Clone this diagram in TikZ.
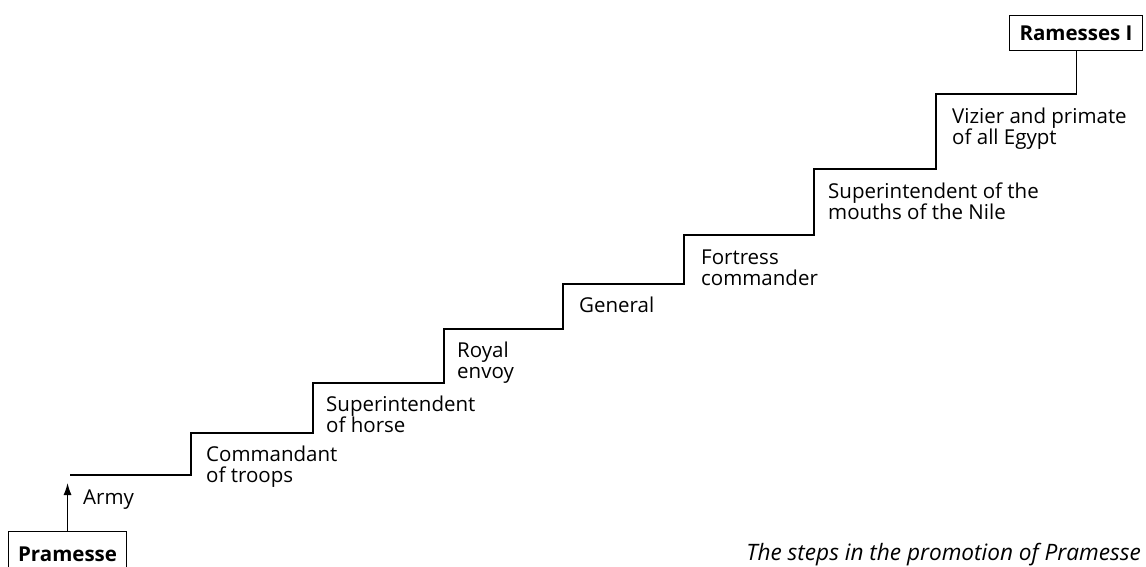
\documentclass[tikz,border=0pt]{standalone}
\usepackage{fontspec}
\setmainfont{Open Sans}
\usetikzlibrary{arrows.meta}
\begin{document}
\begin{tikzpicture}[x=1pt,y=-1pt,
  lbl/.style={anchor=base west,inner sep=0pt,align=left,font=\fontsize{20.5}{21}\selectfont},
  namebox/.style={draw,line width=1.1pt,inner sep=0pt,font=\fontsize{20.5}{21}\selectfont\bfseries},
  stair/.style={line width=1.1pt}]
\useasboundingbox (0,0) rectangle (1146,566);
\clip (0,0) rectangle (1146,566);
\node[namebox,minimum width=118pt,minimum height=50pt,anchor=north west] (pram) at (8,531) {\raisebox{5pt}{Pramesse}};
\node[namebox,minimum width=133pt,minimum height=35pt,anchor=north west] (ram) at (1009,15) {Ramesses I};
\coordinate (tip) at (pram.north |- 0,483);
\draw[stair,-{Latex[length=12pt,width=8pt]}] (pram.north) -- (tip);
\coordinate (s0) at (70,475);
\coordinate (s1) at (191,433);
\coordinate (s2) at (313,383);
\coordinate (s3) at (444,329);
\coordinate (s4) at (563,284);
\coordinate (s5) at (684,235);
\coordinate (s6) at (814,169);
\coordinate (s7) at (936,94);
\draw[stair] (s0) -| (s1) -| (s2) -| (s3) -| (s4) -| (s5) -| (s6) -| (s7) -| (ram.south);
\node[lbl] (army) at (83,504) {Army};
\node[lbl] (l1) at (206,482) {Commandant\\of troops};
\node[lbl] (l2) at (326,432) {Superintendent\\of horse};
\node[lbl] (l3) at (457,378) {Royal\\envoy};
\node[lbl] (l4) at (579,312) {General};
\node[lbl] (l5) at (701,285) {Fortress\\commander};
\node[lbl] (l6) at (828,219) {Superintendent of the\\mouths of the Nile};
\node[lbl] (l7) at (952,144) {Vizier and primate\\of all Egypt};
\node[anchor=base east,inner sep=0pt,font=\fontsize{22.6}{23}\selectfont\itshape] (cap) at (1141,560) {The steps in the promotion of Pramesse};
\end{tikzpicture}
\end{document}
